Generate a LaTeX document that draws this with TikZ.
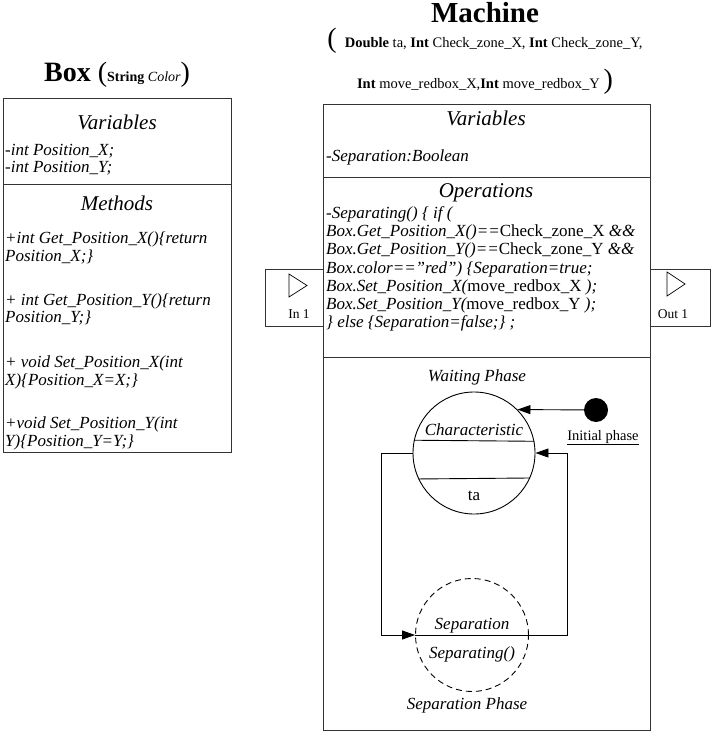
\documentclass[tikz,border=0pt]{standalone}
\usepackage{fontspec}
\setmainfont{Liberation Serif}
\usetikzlibrary{arrows.meta}
\newcommand\fsz[1]{\fontsize{#1}{#1}\selectfont}
\begin{document}
\begin{tikzpicture}[x=1pt,y=-1pt,
  frame/.style={draw=black!80, line width=1pt, inner sep=0, anchor=north west},
  ln/.style={line width=0.9pt, draw=black!80},
  txt/.style={inner sep=0, anchor=base},
  bl/.style={inner sep=0, anchor=base west, font=\fsz{17}\itshape},
  head/.style={inner sep=0, anchor=base, font=\fsz{21}\itshape},
  phase/.style={inner sep=0, anchor=base, font=\fsz{17}\itshape},
  arr/.style={-{Triangle[length=13pt,width=9pt]}, line width=0.9pt}]
\useasboundingbox (0,0) rectangle (713,733);

% ---------------- Box class ----------------
\node[txt] (boxtitle) at (117,82) {\fsz{28}\bfseries Box \mdseries(\fsz{14}\bfseries String \mdseries\itshape Color\upshape\fsz{28})};
\node[frame, minimum width=228pt, minimum height=354pt] (boxcls) at (3,98) {};
\coordinate (bd1) at (0,184);
\draw[ln] (boxcls.west |- bd1) -- (boxcls.east |- bd1);
\node[head] (bvar) at (117,129) {Variables};
\node[bl] (bv1) at (5,155) {-int Position\_X;};
\node[bl] (bv2) at (5,172) {-int Position\_Y;};
\node[head] (bmeth) at (117,210) {Methods};
\node[bl] (bm1) at (5,243) {+int Get\_Position\_X()\{return};
\node[bl] (bm2) at (5,261) {Position\_X;\}};
\node[bl] (bm3) at (5,305) {+ int Get\_Position\_Y()\{return};
\node[bl] (bm4) at (5,322) {Position\_Y;\}};
\node[bl] (bm5) at (5,367) {+ void Set\_Position\_X(int};
\node[bl] (bm6) at (5,385) {X)\{Position\_X=X;\}};
\node[bl] (bm7) at (5,428) {+void Set\_Position\_Y(int};
\node[bl] (bm8) at (5,446) {Y)\{Position\_Y=Y;\}};

% ---------------- Machine ----------------
\node[txt] (mtitle) at (485,23) {\fsz{29}\bfseries Machine};
\node[txt] (mpar1) at (485,48) {\fsz{28}(\hspace{8pt}\fsz{14.5}\bfseries Double \mdseries ta, \bfseries Int \mdseries Check\_zone\_X, \bfseries Int \mdseries Check\_zone\_Y,};
\node[txt] (mpar2) at (485,89) {\fsz{14.5}\bfseries Int \mdseries move\_redbox\_X,\bfseries Int \mdseries move\_redbox\_Y \fsz{28})};
\node[frame, minimum width=327pt, minimum height=626pt] (machine) at (323,104) {};
\coordinate (md1) at (0,177);
\coordinate (md2) at (0,357);
\draw[ln] (machine.west |- md1) -- (machine.east |- md1);
\draw[ln] (machine.west |- md2) -- (machine.east |- md2);
\node[head] (mvar) at (486,125) {Variables};
\node[bl] (mv1) at (326,161) {-Separation:Boolean};
\node[head] (mops) at (486,197) {Operations};
\node[bl] (op1) at (326,218) {-Separating() \{ if (};
\node[bl] (op2) at (326,236) {Box.Get\_Position\_X()==\upshape Check\_zone\_X \itshape\&\&};
\node[bl] (op3) at (326,254.5) {Box.Get\_Position\_Y()==\upshape Check\_zone\_Y \itshape\&\&};
\node[bl] (op4) at (326,273) {Box.color==”red”) \{Separation=true;};
\node[bl] (op5) at (326,291) {Box.Set\_Position\_X(\upshape move\_redbox\_X \itshape);};
\node[bl] (op6) at (326,309) {Box.Set\_Position\_Y(\upshape move\_redbox\_Y \itshape);};
\node[bl] (op7) at (326,327.5) {\} else \{Separation=false;\} ;};

% ports
\node[frame, minimum width=58pt, minimum height=57pt] (inport) at (265,269) {};
\draw[line width=0.7pt] (289,274) -- (289,297) -- (307,285.5) -- cycle;
\node[txt, font=\fsz{13.5}] (inlbl) at (299,318) {In 1};
\node[frame, minimum width=60pt, minimum height=57pt] (outport) at (650,269) {};
\draw[line width=0.7pt] (667,272) -- (667,296) -- (685,284) -- cycle;
\node[txt, font=\fsz{13.5}] (outlbl) at (673,318) {Out 1};

% ---------------- State diagram ----------------
\node[phase] (wph) at (477,381) {Waiting Phase};
\node[circle, draw, line width=0.9pt, minimum size=122pt, inner sep=0] (char) at (474,453) {};
\draw[ln, draw=black] (char.168.65) -- (char.11.35);
\draw[ln, draw=black] (char.-155.8) -- (char.-24.2);
\node[phase] (chartxt) at (474,435) {Characteristic};
\node[txt, font=\fsz{17}] (tatxt) at (474,500) {ta};

\node[circle, fill, inner sep=0, minimum size=24pt] (init) at (596,410) {};
\node[txt, font=\fsz{14.5}] (initlbl) at (603,440) {\underline{Initial phase}};
\draw[arr] (init) -- (char.45);

\node[circle, draw, dash pattern=on 6pt off 4pt, line width=0.9pt, minimum size=113pt, inner sep=0] (sepc) at (472,635) {};
\node[phase] (septxt) at (472,629) {Separation};
\node[phase] (sepfn) at (472,658) {Separating()};
\node[phase] (sph) at (467,709) {Separation Phase};

\coordinate (lc) at (381,635);
\coordinate (rc) at (567,635);
\draw[arr] (char.west) -| (lc) -- (sepc.west);
\draw[arr] (sepc.west) -- (rc) |- (char.east);
\end{tikzpicture}
\end{document}
